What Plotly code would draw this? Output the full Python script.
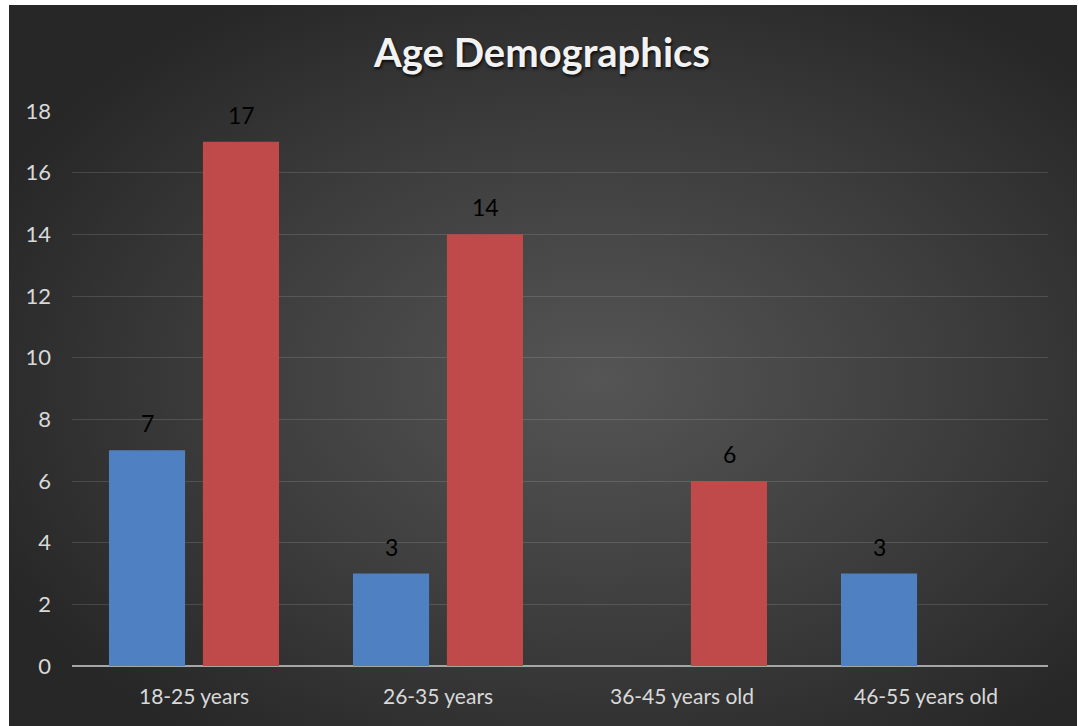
import base64
import plotly.graph_objects as go

# Survey counts per age bracket (None = no respondents in that bracket)
categories = ["18-25 years", "26-35 years", "36-45 years old", "46-55 years old"]
series_a = [7, 3, None, 3]
series_b = [17, 14, 6, None]
y_ticks = [0, 2, 4, 6, 8, 10, 12, 14, 16, 18]

BLUE = "#4f80c2"
RED = "#c0494a"
FONT = "Lato"

W, H = 1079, 726
L, R, T, B = 72, 31, 111, 60
pw, ph = W - L - R, H - T - B

# Radial-gradient panel behind the chart (dark edges, lighter centre)
svg = (
    '<svg xmlns="http://www.w3.org/2000/svg" width="1068" height="721" '
    'viewBox="0 0 1068 721" preserveAspectRatio="none">'
    '<defs><radialGradient id="g" cx="0.55" cy="0.52" r="0.62">'
    '<stop offset="0" stop-color="#555555"/>'
    '<stop offset="0.55" stop-color="#3d3d3d"/>'
    '<stop offset="1" stop-color="#272727"/>'
    '</radialGradient></defs>'
    '<rect x="0" y="0" width="1068" height="721" fill="url(#g)"/></svg>'
)
bg_src = "data:image/svg+xml;base64," + base64.b64encode(svg.encode()).decode()

def px_x(x):
    return (x - L) / pw

def px_y(y):
    return (H - B - y) / ph

fig = go.Figure()
fig.add_trace(go.Bar(x=categories, y=series_a, marker=dict(color=BLUE, line=dict(width=0)),
                     name="A", showlegend=False))
fig.add_trace(go.Bar(x=categories, y=series_b, marker=dict(color=RED, line=dict(width=0)),
                     name="B", showlegend=False))

annotations = []
for vals, shift in ((series_a, -47), (series_b, 47)):
    for cat, v in zip(categories, vals):
        if v is None:
            continue
        annotations.append(dict(
            x=cat, y=v, xref="x", yref="y", text=str(v), showarrow=False,
            xshift=shift, yshift=11, yanchor="bottom",
            font=dict(family=FONT, size=23, color="#000000"),
        ))

fig.update_layout(
    width=W, height=H,
    margin=dict(l=L, r=R, t=T, b=B, pad=0),
    paper_bgcolor="#ffffff",
    plot_bgcolor="rgba(0,0,0,0)",
    barmode="group",
    bargap=0.23,
    bargroupgap=0.19,
    title=dict(
        text="<b>Age Demographics</b>",
        x=542 / W, xanchor="center", xref="container",
        y=(H - 53) / H, yanchor="middle", yref="container",
        font=dict(family=FONT, size=40, color="#f2f2f2",
                  shadow="1px 2px 3px rgba(0,0,0,0.8)"),
    ),
    images=[dict(
        source=bg_src, xref="paper", yref="paper",
        x=px_x(9), y=px_y(5), sizex=(1077 - 9) / pw, sizey=(726 - 5) / ph,
        xanchor="left", yanchor="top", sizing="stretch", layer="below",
    )],
    annotations=annotations,
    xaxis=dict(
        showgrid=False, zeroline=False, showline=False,
        ticks="", tickfont=dict(family=FONT, size=21, color="#d9d9d9"),
        ticklabelstandoff=16,
    ),
    yaxis=dict(
        range=[0, 18], tickvals=y_ticks, ticktext=[str(t) for t in y_ticks],
        showgrid=True, gridcolor="rgba(255,255,255,0.13)", gridwidth=1,
        zeroline=True, zerolinecolor="#a6a6a6", zerolinewidth=2,
        showline=False, ticks="",
        tickfont=dict(family=FONT, size=22, color="#d9d9d9"),
        ticklabelstandoff=20,
    ),
)

fig.write_html("out.html")
